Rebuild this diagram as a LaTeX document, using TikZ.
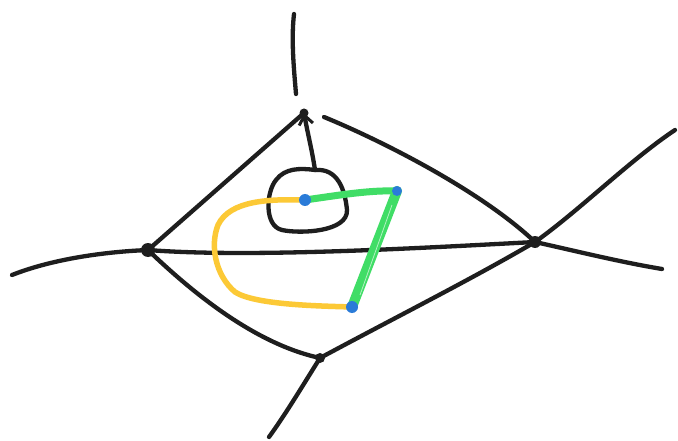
\documentclass[tikz,border=0pt]{standalone}
\usetikzlibrary{arrows.meta}
\definecolor{ink}{HTML}{1E1E1E}
\definecolor{ylw}{HTML}{FCC936}
\definecolor{grn}{HTML}{40DD66}
\definecolor{blu}{HTML}{2A7BD8}
\tikzset{
  pen/.style={draw=ink,line width=4.3pt,line cap=round,line join=round},
  ypen/.style={draw=ylw,line width=5.5pt,line cap=round,line join=round},
  gpen/.style={draw=grn,line width=7pt,line cap=round,line join=round},
  vdot/.style={circle,fill=ink,inner sep=0pt,minimum size=14pt},
  bdot/.style={circle,fill=blu,inner sep=0pt,minimum size=12pt},
}
\begin{document}
\begin{tikzpicture}[x=1pt,y=-1pt]
\useasboundingbox[fill=white] (0,0) rectangle (678,441);
% named points
\coordinate (T) at (304,113);
\coordinate (L) at (148,250);
\coordinate (R) at (535,242);
\coordinate (B) at (320,358);
\coordinate (Tr) at (324,117);
\coordinate (top1) at (294,14);
\coordinate (top2) at (296,94);
\coordinate (farL) at (12,275);
\coordinate (farRu) at (675,130);
\coordinate (farRd) at (662,269);
\coordinate (farB) at (269,437);
\coordinate (P1) at (305,200);
\coordinate (P2) at (397,191);
\coordinate (P3) at (352,307);
\coordinate (loopTop) at (315,170);
% outer lines
\draw[pen] (top1) .. controls (291,40) and (294,70) .. (top2);
\draw[pen] (farL) .. controls (50,260) and (100,252) .. (L);
\draw[pen] (R) .. controls (580,210) and (630,160) .. (farRu);
\draw[pen] (R) .. controls (580,252) and (620,262) .. (farRd);
\draw[pen] (B) .. controls (300,390) and (285,415) .. (farB);
% diamond
\draw[pen] (T) -- (L);
\draw[pen] (Tr) .. controls (380,140) and (480,190) .. (R);
\draw[pen] (L) .. controls (200,300) and (260,345) .. (B);
\draw[pen] (B) .. controls (400,315) and (470,280) .. (R);
\draw[pen] (L) .. controls (250,258) and (420,248) .. (R);
% small loop
\draw[pen] (loopTop) .. controls (338,168) and (345,190) .. (347,210)
  .. controls (348,232) and (300,234) .. (282,230)
  .. controls (264,226) and (266,192) .. (276,180)
  .. controls (285,168) and (300,168) .. (loopTop);
% arrow
\draw[pen,-{Straight Barb[length=9pt,width=14pt,line width=3pt]}] (loopTop) .. controls (312,150) and (308,135) .. (T);
% yellow path
\draw[ypen] (P1) .. controls (270,199) and (230,200) .. (218,225)
  .. controls (210,245) and (215,275) .. (235,292)
  .. controls (255,305) and (320,306) .. (P3);
% green path
\draw[gpen] (P1) .. controls (340,195) and (370,190) .. (P2);
\draw[gpen,line width=10pt] (P2) -- (P3);
\draw[white,line width=0.8pt,opacity=0.6] (392,205) -- (360,295);
% blue points
\node[bdot] (b1) at (P1) {};
\node[bdot,minimum size=10pt] (b2) at (P2) {};
\node[bdot] (b3) at (P3) {};
% vertices
\node[vdot] (vL) at (L) {};
\node[vdot,minimum size=12pt] (vR) at (R) {};
\node[vdot,minimum size=10pt] (vB) at (B) {};
\node[vdot,minimum size=9pt] (vT) at (T) {};
\end{tikzpicture}
\end{document}
